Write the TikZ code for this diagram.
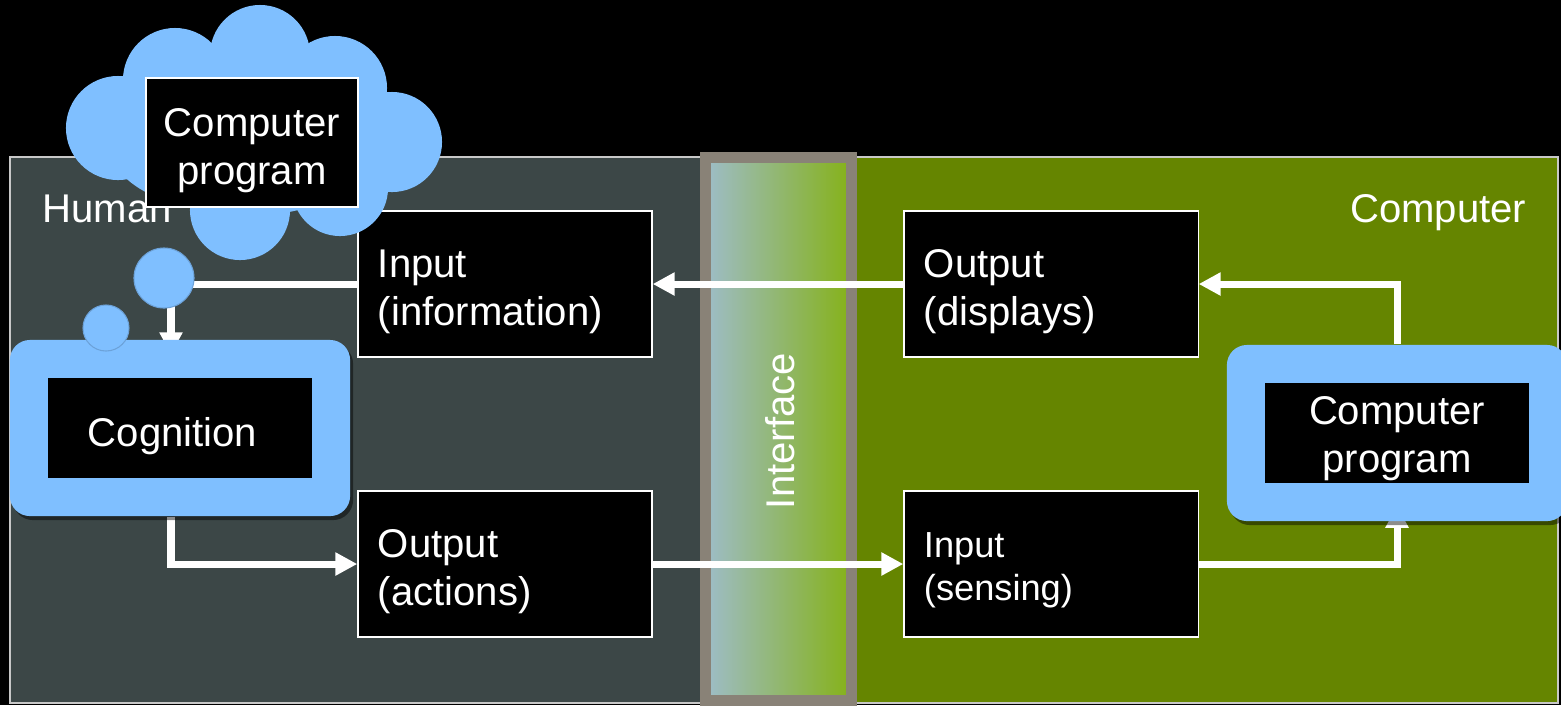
\documentclass[tikz,border=0pt]{standalone}
\usepackage{fontspec}
\setmainfont{Liberation Sans}
\usetikzlibrary{arrows.meta,shadows}
\definecolor{hgray}{HTML}{3C4747}
\definecolor{cgreen}{HTML}{658500}
\definecolor{cblue}{HTML}{7FBFFF}
\definecolor{ifborder}{HTML}{898277}
\definecolor{ifleft}{HTML}{9DBCC2}
\definecolor{ifright}{HTML}{86B21E}
\definecolor{pborder}{HTML}{C8C8C8}
\pgfdeclarelayer{bg}
\pgfdeclarelayer{arrowlayer}
\pgfsetlayers{bg,arrowlayer,main}
\begin{document}
\begin{tikzpicture}[x=0.01cm,y=-0.01cm,
  txt/.style={text=white,font=\fontsize{11.4}{13.7}\selectfont},
  smalltxt/.style={text=white,font=\fontsize{10.3}{12.2}\selectfont},
  lift/.style={execute at begin node={\rule{0pt}{#1}}},
  iobox/.style={draw=white,line width=0.012cm,fill=black,minimum width=2.94cm,minimum height=1.46cm,text width=2.54cm,inner xsep=0.2cm,inner ysep=0pt,align=left},
  bluebox/.style={fill=cblue,rounded corners=0.2cm,minimum width=3.4cm,minimum height=1.76cm,inner sep=0pt,
    drop shadow={shadow xshift=0.03cm,shadow yshift=-0.04cm,opacity=0.45,fill=black}},
  blackbox/.style={txt,fill=black,minimum width=2.64cm,minimum height=1cm,inner sep=0pt},
  bubble/.style={fill=cblue,draw=cblue!85!black,line width=0.3pt,circle,inner sep=0pt},
  flow/.style={draw=white,line width=0.07cm,-{Triangle[length=0.22cm,width=0.22cm]}},
  panel/.style={draw=pborder,line width=0.012cm}]
\useasboundingbox (0,0) rectangle (1561,705);

\begin{pgfonlayer}{bg}
  \fill[black] (0,0) rectangle (1561,705);
  \fill[panel,fill=hgray] (10,157) rectangle (702,703);
  \fill[panel,fill=cgreen] (855,157) rectangle (1558,703);
  \fill[left color=ifleft,right color=ifright] (711,163) rectangle (846,700);
  \draw[ifborder,line width=0.11cm] (705.5,157.5) rectangle (851.5,700);
\end{pgfonlayer}

\node[txt,rotate=90] (iface) at (780,431) {Interface};
\node[txt,inner sep=0pt,anchor=base west] (human) at (42,222) {Human};
\node[txt,inner sep=0pt,anchor=base east] (computer) at (1527,222) {Computer};

\node[iobox,txt,lift=12.2pt] (info) at (505,284) {Input\\(information)};
\node[iobox,txt,lift=12.2pt] (disp) at (1051,284) {Output\\(displays)};
\node[iobox,txt,lift=12.2pt] (act) at (505,564) {Output\\(actions)};
\node[iobox,smalltxt,lift=10.8pt] (sens) at (1051,564) {Input\\(sensing)};

\node[bluebox] (cogb) at (180,428) {};
\node[blackbox,lift=13pt,text width=1.84cm,inner xsep=0.4cm,align=left] (cog) at (180,428) {Cognition};

\node[bluebox] (progb) at (1397,433) {};
\node[blackbox,lift=11.4pt,text width=2.64cm,align=center] (prog) at (1397,433) {Computer\\program};

% thought cloud
\fill[cblue] (118,128) circle [radius=0.52cm];
\fill[cblue] (175,80) circle [radius=0.52cm];
\fill[cblue] (260,55) circle [radius=0.50cm];
\fill[cblue] (335,88) circle [radius=0.52cm];
\fill[cblue] (392,142) circle [radius=0.50cm];
\fill[cblue] (340,188) circle [radius=0.48cm];
\fill[cblue] (240,210) circle [radius=0.50cm];
\fill[cblue, rotate around={-24:(166,163)}] (166,163) ellipse [x radius=0.60cm,y radius=0.35cm];
\fill[cblue] (255,140) ellipse [x radius=1.2cm,y radius=0.75cm];
\node[txt,lift=12.4pt,draw=white,line width=0.012cm,fill=black,minimum width=2.12cm,minimum height=1.29cm,inner sep=0pt,text width=2.12cm,align=center] (cloudbox) at (252,142.5) {Computer\\program};

\node[bubble,minimum size=0.6cm] (bubble1) at (164,278) {};
\node[bubble,minimum size=0.46cm] (bubble2) at (106,328) {};

\begin{pgfonlayer}{arrowlayer}
  \draw[flow] (info.west) -| ([xshift=-0.09cm,yshift=-0.15cm]cogb.north);
  \draw[flow] ([xshift=-0.09cm]cogb.south) |- (act.west);
  \draw[flow] (act.east) -- (sens.west);
  \draw[flow] (sens.east) -| ([yshift=0.16cm]progb.south);
  \draw[flow] (progb.north) |- (disp.east);
  \draw[flow] (disp.west) -- (info.east);
\end{pgfonlayer}
\end{tikzpicture}
\end{document}
